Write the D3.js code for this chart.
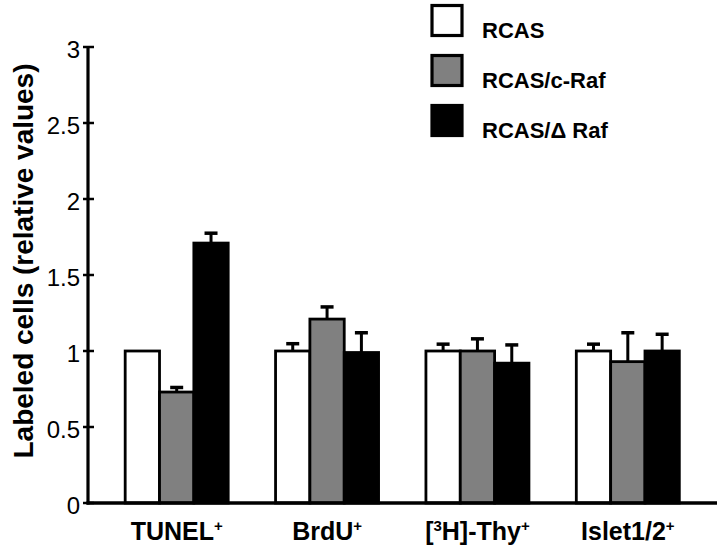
<!DOCTYPE html>
<html><head><meta charset="utf-8">
<script src="https://cdn.jsdelivr.net/npm/d3@7"></script>
<style>body{margin:0;background:#fff}</style>
</head><body>
<svg id="c" width="720" height="548"></svg>
<script>
const categories = ["TUNEL", "BrdU", "[3H]-Thy", "Islet1/2"];
const seriesNames = ["RCAS", "RCAS/c-Raf", "RCAS/\u0394 Raf"];
const rcas = [1.0, 1.0, 1.0, 1.0];
const rcasErr = [0.0, 0.048, 0.045, 0.045];
const cRaf = [0.73, 1.21, 1.0, 0.93];
const cRafErr = [0.03, 0.08, 0.08, 0.19];
const dRaf = [1.71, 0.99, 0.92, 1.0];
const dRafErr = [0.065, 0.13, 0.12, 0.11];
const yTicks = [0, 0.5, 1, 1.5, 2, 2.5, 3];
const tickLabels = ["0", "0.5", "1", "1.5", "2", "2.5", "3"];
const colors = ["#ffffff", "#808080", "#000000"];

const svg = d3.select("#c");
const font = "'Liberation Sans', Arial, sans-serif";
const y = d3.scaleLinear().domain([0, 3]).range([503, 47]);
const x0 = d3.scaleBand().domain(categories).range([101.5, 703]).paddingInner(0.315).paddingOuter(0.1575);
const x1 = d3.scaleBand().domain(seriesNames).range([0, x0.bandwidth()]);

const vals = [rcas, cRaf, dRaf];
const errs = [rcasErr, cRafErr, dRafErr];

// bars
categories.forEach((c, i) => {
  seriesNames.forEach((s, j) => {
    const v = vals[j][i], e = errs[j][i];
    const bx = x0(c) + x1(s);
    const cx = bx + x1.bandwidth() / 2;
    if (e > 0) {
      svg.append("line").attr("x1", cx).attr("x2", cx).attr("y1", y(v)).attr("y2", y(v + e))
        .attr("stroke", "#000").attr("stroke-width", 3);
      svg.append("line").attr("x1", cx - 6.5).attr("x2", cx + 6.5).attr("y1", y(v + e)).attr("y2", y(v + e))
        .attr("stroke", "#000").attr("stroke-width", 3.5);
    }
  });
  seriesNames.forEach((s, j) => {
    const v = vals[j][i];
    const bx = x0(c) + x1(s);
    svg.append("rect").attr("x", bx).attr("y", y(v)).attr("width", x1.bandwidth()).attr("height", y(0) - y(v))
      .attr("fill", colors[j]).attr("stroke", "#000").attr("stroke-width", 2.8);
  });
});

// y axis
const yAxis = d3.axisLeft(y).tickValues(yTicks).tickFormat((d, i) => tickLabels[i]).tickSize(0).tickPadding(8);
const ga = svg.append("g").attr("transform", "translate(88,0)").call(yAxis);
ga.select(".domain").remove();
ga.selectAll("text").attr("font-family", font).attr("font-size", 24).attr("fill", "#000")
  .attr("dy", null).attr("y", 10);
yTicks.forEach(t => {
  svg.append("line").attr("x1", 83).attr("x2", 94).attr("y1", y(t)).attr("y2", y(t)).attr("stroke", "#000").attr("stroke-width", 2.5);
});
svg.append("line").attr("x1", 88).attr("x2", 88).attr("y1", y(3) - 1).attr("y2", y(0) + 1.5).attr("stroke", "#000").attr("stroke-width", 3.2);
svg.append("line").attr("x1", 86.5).attr("x2", 717).attr("y1", y(0)).attr("y2", y(0)).attr("stroke", "#000").attr("stroke-width", 3.5);

// x labels
categories.forEach((c, i) => {
  const t = svg.append("text").attr("x", x0(c) + x0.bandwidth() / 2).attr("y", 540)
    .attr("text-anchor", "middle").attr("font-family", font).attr("font-weight", "bold").attr("font-size", 25);
  if (i === 2) {
    t.append("tspan").text("[");
    t.append("tspan").text("3").attr("font-size", 15).attr("dy", -9);
    t.append("tspan").text("H]-Thy").attr("dy", 9);
    t.append("tspan").text("+").attr("font-size", 15).attr("dy", -9);
  } else {
    t.append("tspan").text(c);
    t.append("tspan").text("+").attr("font-size", 15).attr("dy", -9);
  }
});

// y label
svg.append("text").attr("transform", "translate(33,261) rotate(-90)").attr("text-anchor", "middle")
  .attr("font-family", font).attr("font-weight", "bold").attr("font-size", 27)
  .attr("textLength", 395).attr("lengthAdjust", "spacingAndGlyphs")
  .text("Labeled cells (relative values)");

// legend
seriesNames.forEach((s, j) => {
  svg.append("rect").attr("x", 432).attr("y", 5.5 + j * 50).attr("width", 30).attr("height", 30)
    .attr("fill", colors[j]).attr("stroke", "#000").attr("stroke-width", 3.2);
  svg.append("text").attr("x", 482).attr("y", 38 + j * 50).attr("font-family", font).attr("font-weight", "bold")
    .attr("font-size", 22).text(s);
});
</script>
</body></html>
